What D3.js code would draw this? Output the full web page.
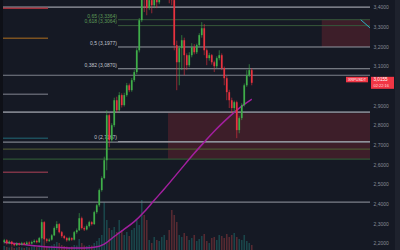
<!DOCTYPE html>
<html>
<head>
<meta charset="utf-8">
<script src="https://cdn.jsdelivr.net/npm/d3@7"></script>
<style>
  body { margin: 0; background: #151924; overflow: hidden; }
  svg { display: block; }
</style>
</head>
<body>
<div id="chart"></div>
<script>
// XRPUSDT candles, one entry per bar
const opens = [2.205,2.215,2.200,2.208,2.196,2.190,2.198,2.193,2.200,2.195,
  2.203,2.198,2.206,2.212,2.205,2.226,2.307,2.220,2.212,2.218,
  2.240,2.277,2.297,2.256,2.236,2.226,2.215,2.226,2.218,2.256,
  2.266,2.327,2.277,2.270,2.287,2.307,2.297,2.358,2.393,2.470,
  2.531,2.622,2.851,2.724,2.800,2.927,2.876,2.953,2.902,2.953,
  3.003,2.978,3.029,3.070,3.181,3.334,3.486,3.461,3.395,3.436,
  3.410,3.461,3.425,3.512,3.563,3.639,3.588,3.537,3.436,3.207,
  3.120,3.192,3.232,3.156,3.105,3.156,3.197,3.171,3.207,3.258,
  3.293,3.181,3.141,3.156,3.120,3.100,3.141,3.156,3.090,3.039,
  2.968,2.927,2.887,2.917,2.775,2.836,2.902,3.003,3.054,3.080];
const closes = [2.215,2.200,2.208,2.196,2.190,2.198,2.193,2.200,2.195,2.203,
  2.198,2.206,2.212,2.205,2.226,2.307,2.220,2.212,2.218,2.240,
  2.277,2.297,2.256,2.236,2.226,2.215,2.226,2.218,2.256,2.266,
  2.327,2.277,2.270,2.287,2.307,2.297,2.358,2.393,2.470,2.531,
  2.622,2.851,2.724,2.800,2.927,2.876,2.953,2.902,2.953,3.003,
  2.978,3.029,3.070,3.181,3.334,3.486,3.461,3.395,3.436,3.410,
  3.461,3.425,3.512,3.563,3.639,3.588,3.537,3.436,3.207,3.120,
  3.192,3.232,3.156,3.105,3.156,3.197,3.171,3.207,3.258,3.293,
  3.181,3.141,3.156,3.120,3.100,3.141,3.156,3.090,3.039,2.968,
  2.927,2.887,2.917,2.775,2.836,2.902,3.003,3.054,3.080,3.0155];
const highs = [2.222,2.220,2.214,2.212,2.202,2.205,2.203,2.207,2.206,2.210,
  2.209,2.213,2.219,2.218,2.232,2.322,2.312,2.226,2.225,2.246,
  2.285,2.312,2.302,2.262,2.242,2.232,2.233,2.230,2.262,2.275,
  2.353,2.335,2.285,2.295,2.314,2.312,2.365,2.400,2.478,2.540,
  2.640,2.876,2.860,2.810,2.940,2.945,2.968,2.962,2.965,3.015,
  3.012,3.040,3.080,3.192,3.345,3.500,3.520,3.480,3.450,3.455,
  3.475,3.478,3.525,3.590,3.680,3.660,3.610,3.560,3.461,3.230,
  3.205,3.258,3.245,3.165,3.171,3.217,3.212,3.215,3.268,3.324,
  3.314,3.190,3.168,3.162,3.128,3.150,3.181,3.165,3.098,3.050,
  2.980,2.940,2.925,2.925,2.845,2.912,3.012,3.080,3.110,3.090];
const lows = [2.198,2.193,2.195,2.188,2.184,2.186,2.187,2.189,2.190,2.191,
  2.192,2.194,2.200,2.199,2.201,2.220,2.212,2.203,2.206,2.213,
  2.236,2.268,2.250,2.228,2.220,2.208,2.210,2.212,2.214,2.248,
  2.262,2.270,2.262,2.265,2.280,2.290,2.293,2.350,2.385,2.462,
  2.525,2.571,2.688,2.715,2.790,2.865,2.868,2.890,2.895,2.945,
  2.968,2.970,3.020,3.060,3.170,3.324,3.375,3.359,3.385,3.369,
  3.395,3.395,3.415,3.476,3.537,3.560,3.420,3.410,3.181,2.978,
  3.003,3.080,3.054,3.080,3.095,3.145,3.160,3.162,3.198,3.245,
  3.156,3.105,3.128,3.108,3.070,3.090,3.130,3.080,3.003,2.927,
  2.887,2.861,2.866,2.734,2.759,2.826,2.895,2.995,3.045,3.003];
const volumes = [8,6,5,7,4,5,6,5,4,6,5,7,8,6,
  10,26,18,
  8,7,9,12,16,14,10,8,7,6,7,10,9,
  22,14,9,8,10,9,14,18,24,30,
  96,60,44,40,46,36,60,40,30,36,
  28,40,44,60,50,100,70,60,20,14,
  26,20,18,26,30,20,40,80,70,56,
  30,26,34,28,20,24,30,18,22,28,
  32,18,14,24,26,20,30,28,24,32,
  26,30,34,26,22,20,30,18,14,10];

// moving average read at every 4th bar
const maIndex = [0,4,8,12,16,20,24,28,32,36,40,44,48,52,56,60,64,68,72,76,80,84,88,92,96,99];
const maValues = [2.205,2.198,2.193,2.187,2.182,2.179,2.176,2.175,2.175,2.177,2.190,2.236,2.271,
  2.307,2.358,2.419,2.475,2.536,2.597,2.658,2.714,2.770,2.820,2.866,2.907,2.932];

const priceTicks = [2.2,2.3,2.4,2.5,2.6,2.7,2.8,2.9,3.0,3.1,3.2,3.3,3.4];
const fullLevels = [3.4, 3.054, 2.866, 2.714, 2.409];
const sideLevels = [3.395, 3.242, 2.958, 2.734, 2.561, 2.434];
const fibRatios = ["0,65", "0,618", "0,5", "0,382", "0"];
const fibPrices = [3.3364, 3.3064, 3.1977, 3.0870, 2.7167];
const zoneLines = [2.678, 2.627];
const zoneLow = [2.627, 2.861];
const zoneHigh = [3.198, 3.336];
const trendPrices = [3.336, 3.295];
const trendIndex = [142.6, 146.3];
const lastPrice = 3.0155;
const countdown = "02:22:16";
const symbol = "XRPUSDT";

// bar positions used by the drawings
const sideStart = -0.5, sideEnd = 17.5;
const fibStart = 45.5;
const zoneLowStart = 65.5, zoneHighStart = 127;
const lastIndex = 146.3;

const width = 400, height = 250;
const sideColors = ["#9e2f3a", "#7c5220", "#5e616c", "#1d4f5c", "#7d3446", "#5e616c"];
const zoneColors = ["#4b5532", "#2e5535"];
const up = "#3fae49", down = "#e8323f";
const font = "'Liberation Sans', Arial, sans-serif";

const svg = d3.select("#chart").append("svg")
  .attr("width", width).attr("height", height);

svg.append("rect").attr("width", width).attr("height", height).attr("fill", "#151924");
svg.append("rect").attr("width", 3).attr("height", height).attr("fill", "#0e1017");
svg.append("rect").attr("x", 395).attr("width", 5).attr("height", height).attr("fill", "#1e222d");

const x = d3.scaleLinear().domain([-0.5, lastIndex]).range([3, 370]);
const y = d3.scaleLinear().domain([2.2, 3.4]).range([243.2, 7.2]);
const v = d3.scaleLinear().domain([0, 100]).range([250, 200]);

const idx = d3.range(closes.length);

// zones
svg.append("rect")
  .attr("x", x(zoneLowStart)).attr("width", x(lastIndex) - x(zoneLowStart))
  .attr("y", y(zoneLow[1])).attr("height", y(zoneLow[0]) - y(zoneLow[1]))
  .attr("fill", "rgba(242,54,69,0.18)");
svg.append("rect")
  .attr("x", x(zoneHighStart)).attr("width", x(lastIndex) - x(zoneHighStart))
  .attr("y", y(zoneHigh[1])).attr("height", y(zoneHigh[0]) - y(zoneHigh[1]))
  .attr("fill", "rgba(242,54,69,0.18)");

// volume
svg.append("g").selectAll("rect")
  .data(idx)
  .enter().append("rect")
  .attr("x", d => x(d) - 0.8)
  .attr("width", 1.6)
  .attr("y", d => v(volumes[d]))
  .attr("height", d => v(0) - v(volumes[d]))
  .attr("fill", d => closes[d] >= opens[d] ? "rgba(38,166,154,0.32)" : "rgba(239,83,80,0.3)");

// horizontal levels
svg.append("g").selectAll("line")
  .data(zoneLines)
  .enter().append("line")
  .attr("x1", x(-0.5)).attr("x2", x(lastIndex))
  .attr("y1", d => y(d)).attr("y2", d => y(d))
  .attr("stroke", (d, i) => zoneColors[i]).attr("stroke-width", 1.2);

svg.append("g").selectAll("line")
  .data(fullLevels)
  .enter().append("line")
  .attr("x1", x(-0.5)).attr("x2", x(lastIndex))
  .attr("y1", d => y(d)).attr("y2", d => y(d))
  .attr("stroke", (d, i) => i == 0 ? "#9a9da6" : "#7d808a")
  .attr("stroke-width", (d, i) => i == 2 ? 1.8 : 1.2);

svg.append("g").selectAll("line")
  .data(sideLevels)
  .enter().append("line")
  .attr("x1", x(sideStart)).attr("x2", x(sideEnd))
  .attr("y1", d => y(d)).attr("y2", d => y(d))
  .attr("stroke", (d, i) => sideColors[i]).attr("stroke-width", 1.5);

// fib retracement
const fib = svg.append("g");
fib.selectAll("line")
  .data(fibPrices)
  .enter().append("line")
  .attr("x1", x(fibStart)).attr("x2", x(lastIndex))
  .attr("y1", d => y(d)).attr("y2", d => y(d))
  .attr("stroke", (d, i) => i < 2 ? "#35583a" : "#9598a1").attr("stroke-width", 1);
fib.selectAll("text")
  .data(fibPrices)
  .enter().append("text")
  .attr("x", x(fibStart) - 1)
  .attr("y", d => y(d) - 2.2)
  .attr("text-anchor", "end")
  .attr("font-family", font)
  .attr("font-size", 5)
  .attr("fill", (d, i) => i < 2 ? "#5e9c58" : "#c3c6ce")
  .text((d, i) => fibRatios[i] + " (" + d3.format(".4f")(d).replace(".", ",") + ")");

// moving average
svg.append("path")
  .datum(maIndex)
  .attr("fill", "none")
  .attr("stroke", "#a21f9e")
  .attr("stroke-width", 1.5)
  .attr("d", d3.line().x(d => x(d)).y((d, i) => y(maValues[i])).curve(d3.curveBasis));

// trend line stub
svg.append("line")
  .attr("x1", x(trendIndex[0])).attr("y1", y(trendPrices[0]))
  .attr("x2", x(trendIndex[1])).attr("y2", y(trendPrices[1]))
  .attr("stroke", "#2ab3c6").attr("stroke-width", 1);

// candles
const candles = svg.append("g").selectAll("g")
  .data(idx)
  .enter().append("g");
candles.append("line")
  .attr("x1", d => x(d)).attr("x2", d => x(d))
  .attr("y1", d => y(highs[d])).attr("y2", d => y(lows[d]))
  .attr("stroke", d => closes[d] >= opens[d] ? up : down)
  .attr("stroke-width", 0.6);
candles.append("rect")
  .attr("x", d => x(d) - 0.85)
  .attr("width", 1.7)
  .attr("y", d => y(Math.max(opens[d], closes[d])))
  .attr("height", d => Math.max(0.6, Math.abs(y(opens[d]) - y(closes[d]))))
  .attr("fill", d => closes[d] >= opens[d] ? up : down);

// price axis
const axis = svg.append("g")
  .attr("transform", "translate(372,0)")
  .call(d3.axisRight(y).tickValues(priceTicks).tickSize(0)
    .tickFormat(d => d3.format(".4f")(d).replace(".", ",")));
axis.select(".domain").remove();
axis.selectAll("text")
  .attr("x", 1.5)
  .attr("font-family", font)
  .attr("font-size", 5)
  .attr("fill", "#878a94");

// last price tag
const py = y(lastPrice);
svg.append("rect").attr("x", 371).attr("y", py - 6).attr("width", 23).attr("height", 12)
  .attr("fill", "#f23645");
svg.append("text").attr("x", 373.5).attr("y", py - 1.6)
  .attr("font-family", font).attr("font-size", 4.6)
  .attr("fill", "#ffffff").text(d3.format(".4f")(lastPrice).replace(".", ","));
svg.append("text").attr("x", 373.5).attr("y", py + 4.4)
  .attr("font-family", font).attr("font-size", 4)
  .attr("fill", "#ffd9dc").text(countdown);
svg.append("rect").attr("x", 346).attr("y", py - 6).attr("width", 22).attr("height", 5.5)
  .attr("fill", "#f23645");
svg.append("text").attr("x", 357).attr("y", py - 1.8).attr("text-anchor", "middle")
  .attr("font-family", font).attr("font-size", 3.8)
  .attr("fill", "#ffffff").text(symbol);
</script>
</body>
</html>
